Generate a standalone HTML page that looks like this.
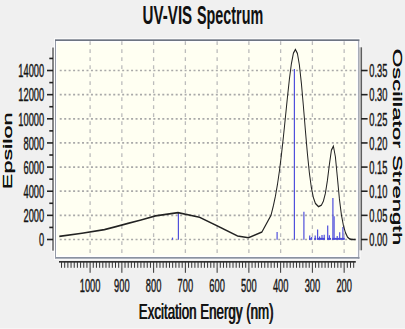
<!DOCTYPE html>
<html><head><meta charset="utf-8"><style>html,body{margin:0;padding:0;background:#f0f0f0;overflow:hidden}svg{display:block;}</style></head>
<body><svg width="405" height="329" viewBox="0 0 405 329">
<style>
.vg{stroke:#bcbcbc;stroke-width:1.3;stroke-dasharray:3.7 4.3;}
.hg{stroke:#a9a9a9;stroke-width:1.7;stroke-dasharray:2.0 2.46;stroke-dashoffset:2.54}
.tl{font-family:"Liberation Sans",sans-serif;font-size:18.8px;fill:#151515;stroke:#151515;stroke-width:0.45px;}
.tr{font-family:"Liberation Sans",sans-serif;fill:#111;}
.tt{font-family:"Liberation Sans",sans-serif;font-weight:bold;fill:#111;}
</style>
<rect x="0" y="0" width="405" height="329" fill="#f0f0f0"/>
<rect x="54" y="38.2" width="306.5" height="221.5" fill="#ffffff" opacity="0.8"/>
<rect x="55" y="39.4" width="304.5" height="219.4" fill="#ffffff"/>
<rect x="55" y="39.3" width="304.5" height="1.8" fill="#6e7582"/>
<rect x="55" y="41" width="1" height="217.8" fill="#949aa6"/>
<rect x="357.8" y="41" width="1.5" height="217.8" fill="#a8adb8"/><rect x="359.3" y="47.3" width="1.6" height="203" fill="#bababa"/>
<rect x="56" y="257" width="303.5" height="1.7" fill="#8a92a0"/>
<rect x="56" y="41" width="301.8" height="215.9" fill="#ffffff"/>
<rect x="56.9" y="42.6" width="299.5" height="212.7" fill="#fffff2"/>
<g><line x1="344.15" y1="41.2" x2="344.15" y2="256.5" class="vg"/><line x1="312.39" y1="41.2" x2="312.39" y2="256.5" class="vg"/><line x1="280.64" y1="41.2" x2="280.64" y2="256.5" class="vg"/><line x1="248.88" y1="41.2" x2="248.88" y2="256.5" class="vg"/><line x1="217.13" y1="41.2" x2="217.13" y2="256.5" class="vg"/><line x1="185.37" y1="41.2" x2="185.37" y2="256.5" class="vg"/><line x1="153.61" y1="41.2" x2="153.61" y2="256.5" class="vg"/><line x1="121.86" y1="41.2" x2="121.86" y2="256.5" class="vg"/><line x1="90.10" y1="41.2" x2="90.10" y2="256.5" class="vg"/><line x1="57.8" y1="239.50" x2="358" y2="239.50" class="hg"/><line x1="57.8" y1="215.36" x2="358" y2="215.36" class="hg"/><line x1="57.8" y1="191.22" x2="358" y2="191.22" class="hg"/><line x1="57.8" y1="167.08" x2="358" y2="167.08" class="hg"/><line x1="57.8" y1="142.94" x2="358" y2="142.94" class="hg"/><line x1="57.8" y1="118.80" x2="358" y2="118.80" class="hg"/><line x1="57.8" y1="94.66" x2="358" y2="94.66" class="hg"/><line x1="57.8" y1="70.52" x2="358" y2="70.52" class="hg"/></g>
<g stroke="#5050dc" stroke-width="1.2"><line x1="172.50" y1="237.60" x2="172.50" y2="239.8"/><line x1="178.40" y1="212.90" x2="178.40" y2="239.8"/><line x1="277.10" y1="232.10" x2="277.10" y2="239.8"/><line x1="294.40" y1="68.90" x2="294.40" y2="239.8"/><line x1="303.90" y1="211.70" x2="303.90" y2="239.8"/><line x1="309.70" y1="235.60" x2="309.70" y2="239.8"/><line x1="311.70" y1="237.00" x2="311.70" y2="239.8"/><line x1="315.20" y1="235.40" x2="315.20" y2="239.8"/><line x1="317.60" y1="229.60" x2="317.60" y2="239.8"/><line x1="319.60" y1="236.50" x2="319.60" y2="239.8"/><line x1="322.00" y1="235.00" x2="322.00" y2="239.8"/><line x1="324.20" y1="234.80" x2="324.20" y2="239.8"/><line x1="327.70" y1="225.40" x2="327.70" y2="239.8"/><line x1="329.40" y1="235.30" x2="329.40" y2="239.8"/><line x1="332.90" y1="198.00" x2="332.90" y2="239.8"/><line x1="334.10" y1="216.30" x2="334.10" y2="239.8"/><line x1="337.20" y1="236.00" x2="337.20" y2="239.8"/><line x1="339.70" y1="232.20" x2="339.70" y2="239.8"/><line x1="342.90" y1="226.90" x2="342.90" y2="239.8"/><line x1="344.20" y1="237.50" x2="344.20" y2="239.8"/></g>
<g fill="#4a4ad8"><rect x="309" y="237.9" width="1.8" height="1.9"/><rect x="311.3" y="237.9" width="0.7" height="1.9"/><rect x="314.3" y="237.9" width="1.9" height="1.9"/><rect x="317.3" y="237.9" width="7.7" height="1.9"/><rect x="327.2" y="237.9" width="3.8" height="1.9"/><rect x="332.2" y="237.9" width="12.1" height="1.9"/></g>
<g transform="scale(1,1.6)"><path d="M59.30,147.750 L82.00,145.781 L104.40,143.500 L116.00,141.618 L128.00,139.628 L141.00,137.479 L155.50,134.926 L178.00,132.871 L199.50,135.748 L218.00,141.438 L237.60,147.500 L248.50,148.562 L261.90,145.000 L271.00,134.562 L273.40,128.507 L275.40,122.679 L277.40,115.517 L279.40,106.916 L281.40,96.879 L283.40,85.578 L285.40,73.416 L287.40,61.068 L289.40,49.479 L291.40,39.803 L293.40,33.256 L295.40,30.897 L297.40,33.376 L299.40,40.711 L301.40,52.180 L303.40,66.402 L305.40,81.601 L307.40,95.996 L309.40,108.189 L311.40,117.416 L313.40,123.595 L315.40,127.175 L318.50,129.187 L321.40,128.228 L323.40,125.705 L325.40,120.757 L327.40,112.814 L329.40,102.731 L331.40,93.878 L333.40,91.336 L335.40,98.015 L337.40,111.072 L339.40,124.310 L341.40,134.206 L343.40,140.941 L345.40,145.370 L347.40,148.019 L349.40,149.274 L351.40,149.636 L353.40,149.685 L355.40,149.687 L355.60,149.687" fill="none" stroke="#222" stroke-width="1.0" stroke-linejoin="miter" stroke-miterlimit="10"/></g>
<rect x="51.2" y="46.6" width="3.6" height="205" fill="#ffffff" opacity="0.7"/>
<rect x="52" y="47.5" width="2" height="203.2" fill="#868686"/>
<rect x="362" y="46.8" width="1.1" height="204" fill="#ffffff" opacity="0.6"/><rect x="360.8" y="47.3" width="1.3" height="203" fill="#5e5e5e"/>
<g stroke="#222" stroke-width="1.6"><line x1="47" y1="239.50" x2="53" y2="239.50"/><line x1="49.3" y1="227.43" x2="53" y2="227.43"/><line x1="47" y1="215.36" x2="53" y2="215.36"/><line x1="49.3" y1="203.29" x2="53" y2="203.29"/><line x1="47" y1="191.22" x2="53" y2="191.22"/><line x1="49.3" y1="179.15" x2="53" y2="179.15"/><line x1="47" y1="167.08" x2="53" y2="167.08"/><line x1="49.3" y1="155.01" x2="53" y2="155.01"/><line x1="47" y1="142.94" x2="53" y2="142.94"/><line x1="49.3" y1="130.87" x2="53" y2="130.87"/><line x1="47" y1="118.80" x2="53" y2="118.80"/><line x1="49.3" y1="106.73" x2="53" y2="106.73"/><line x1="47" y1="94.66" x2="53" y2="94.66"/><line x1="49.3" y1="82.59" x2="53" y2="82.59"/><line x1="47" y1="70.52" x2="53" y2="70.52"/><line x1="49.3" y1="58.45" x2="53" y2="58.45"/></g>
<g stroke="#222" stroke-width="1.6"><line x1="361" y1="239.50" x2="367.6" y2="239.50"/><line x1="361" y1="215.36" x2="367.6" y2="215.36"/><line x1="361" y1="191.22" x2="367.6" y2="191.22"/><line x1="361" y1="167.08" x2="367.6" y2="167.08"/><line x1="361" y1="142.94" x2="367.6" y2="142.94"/><line x1="361" y1="118.80" x2="367.6" y2="118.80"/><line x1="361" y1="94.66" x2="367.6" y2="94.66"/><line x1="361" y1="70.52" x2="367.6" y2="70.52"/></g>
<rect x="59" y="261.1" width="296.8" height="1.5" fill="#1a1a1a"/>
<g stroke="#333" stroke-width="1"><line x1="61.52" y1="262" x2="61.52" y2="267.8"/><line x1="64.70" y1="262" x2="64.70" y2="267.8"/><line x1="67.87" y1="262" x2="67.87" y2="267.8"/><line x1="71.05" y1="262" x2="71.05" y2="267.8"/><line x1="74.22" y1="262" x2="74.22" y2="267.8"/><line x1="77.40" y1="262" x2="77.40" y2="267.8"/><line x1="80.58" y1="262" x2="80.58" y2="267.8"/><line x1="83.75" y1="262" x2="83.75" y2="267.8"/><line x1="86.93" y1="262" x2="86.93" y2="267.8"/><line x1="90.10" y1="262" x2="90.10" y2="272.8"/><line x1="93.28" y1="262" x2="93.28" y2="267.8"/><line x1="96.45" y1="262" x2="96.45" y2="267.8"/><line x1="99.63" y1="262" x2="99.63" y2="267.8"/><line x1="102.80" y1="262" x2="102.80" y2="267.8"/><line x1="105.98" y1="262" x2="105.98" y2="267.8"/><line x1="109.16" y1="262" x2="109.16" y2="267.8"/><line x1="112.33" y1="262" x2="112.33" y2="267.8"/><line x1="115.51" y1="262" x2="115.51" y2="267.8"/><line x1="118.68" y1="262" x2="118.68" y2="267.8"/><line x1="121.86" y1="262" x2="121.86" y2="272.8"/><line x1="125.03" y1="262" x2="125.03" y2="267.8"/><line x1="128.21" y1="262" x2="128.21" y2="267.8"/><line x1="131.38" y1="262" x2="131.38" y2="267.8"/><line x1="134.56" y1="262" x2="134.56" y2="267.8"/><line x1="137.74" y1="262" x2="137.74" y2="267.8"/><line x1="140.91" y1="262" x2="140.91" y2="267.8"/><line x1="144.09" y1="262" x2="144.09" y2="267.8"/><line x1="147.26" y1="262" x2="147.26" y2="267.8"/><line x1="150.44" y1="262" x2="150.44" y2="267.8"/><line x1="153.61" y1="262" x2="153.61" y2="272.8"/><line x1="156.79" y1="262" x2="156.79" y2="267.8"/><line x1="159.97" y1="262" x2="159.97" y2="267.8"/><line x1="163.14" y1="262" x2="163.14" y2="267.8"/><line x1="166.32" y1="262" x2="166.32" y2="267.8"/><line x1="169.49" y1="262" x2="169.49" y2="267.8"/><line x1="172.67" y1="262" x2="172.67" y2="267.8"/><line x1="175.84" y1="262" x2="175.84" y2="267.8"/><line x1="179.02" y1="262" x2="179.02" y2="267.8"/><line x1="182.19" y1="262" x2="182.19" y2="267.8"/><line x1="185.37" y1="262" x2="185.37" y2="272.8"/><line x1="188.55" y1="262" x2="188.55" y2="267.8"/><line x1="191.72" y1="262" x2="191.72" y2="267.8"/><line x1="194.90" y1="262" x2="194.90" y2="267.8"/><line x1="198.07" y1="262" x2="198.07" y2="267.8"/><line x1="201.25" y1="262" x2="201.25" y2="267.8"/><line x1="204.42" y1="262" x2="204.42" y2="267.8"/><line x1="207.60" y1="262" x2="207.60" y2="267.8"/><line x1="210.77" y1="262" x2="210.77" y2="267.8"/><line x1="213.95" y1="262" x2="213.95" y2="267.8"/><line x1="217.13" y1="262" x2="217.13" y2="272.8"/><line x1="220.30" y1="262" x2="220.30" y2="267.8"/><line x1="223.48" y1="262" x2="223.48" y2="267.8"/><line x1="226.65" y1="262" x2="226.65" y2="267.8"/><line x1="229.83" y1="262" x2="229.83" y2="267.8"/><line x1="233.00" y1="262" x2="233.00" y2="267.8"/><line x1="236.18" y1="262" x2="236.18" y2="267.8"/><line x1="239.36" y1="262" x2="239.36" y2="267.8"/><line x1="242.53" y1="262" x2="242.53" y2="267.8"/><line x1="245.71" y1="262" x2="245.71" y2="267.8"/><line x1="248.88" y1="262" x2="248.88" y2="272.8"/><line x1="252.06" y1="262" x2="252.06" y2="267.8"/><line x1="255.23" y1="262" x2="255.23" y2="267.8"/><line x1="258.41" y1="262" x2="258.41" y2="267.8"/><line x1="261.58" y1="262" x2="261.58" y2="267.8"/><line x1="264.76" y1="262" x2="264.76" y2="267.8"/><line x1="267.94" y1="262" x2="267.94" y2="267.8"/><line x1="271.11" y1="262" x2="271.11" y2="267.8"/><line x1="274.29" y1="262" x2="274.29" y2="267.8"/><line x1="277.46" y1="262" x2="277.46" y2="267.8"/><line x1="280.64" y1="262" x2="280.64" y2="272.8"/><line x1="283.81" y1="262" x2="283.81" y2="267.8"/><line x1="286.99" y1="262" x2="286.99" y2="267.8"/><line x1="290.16" y1="262" x2="290.16" y2="267.8"/><line x1="293.34" y1="262" x2="293.34" y2="267.8"/><line x1="296.52" y1="262" x2="296.52" y2="267.8"/><line x1="299.69" y1="262" x2="299.69" y2="267.8"/><line x1="302.87" y1="262" x2="302.87" y2="267.8"/><line x1="306.04" y1="262" x2="306.04" y2="267.8"/><line x1="309.22" y1="262" x2="309.22" y2="267.8"/><line x1="312.39" y1="262" x2="312.39" y2="272.8"/><line x1="315.57" y1="262" x2="315.57" y2="267.8"/><line x1="318.75" y1="262" x2="318.75" y2="267.8"/><line x1="321.92" y1="262" x2="321.92" y2="267.8"/><line x1="325.10" y1="262" x2="325.10" y2="267.8"/><line x1="328.27" y1="262" x2="328.27" y2="267.8"/><line x1="331.45" y1="262" x2="331.45" y2="267.8"/><line x1="334.62" y1="262" x2="334.62" y2="267.8"/><line x1="337.80" y1="262" x2="337.80" y2="267.8"/><line x1="340.97" y1="262" x2="340.97" y2="267.8"/><line x1="344.15" y1="262" x2="344.15" y2="272.8"/><line x1="347.33" y1="262" x2="347.33" y2="267.8"/><line x1="350.50" y1="262" x2="350.50" y2="267.8"/><line x1="353.68" y1="262" x2="353.68" y2="267.8"/></g>
<rect x="0" y="328" width="405" height="1" fill="#f5f5f5"/>
<g class="tl"><text text-anchor="end" transform="translate(44.2,246.20) scale(0.4947,1)">0</text><text transform="translate(369.3,246.20) scale(0.4947,1)">0.00</text><text text-anchor="end" transform="translate(44.2,222.06) scale(0.4947,1)">2000</text><text transform="translate(369.3,222.06) scale(0.4947,1)">0.05</text><text text-anchor="end" transform="translate(44.2,197.92) scale(0.4947,1)">4000</text><text transform="translate(369.3,197.92) scale(0.4947,1)">0.10</text><text text-anchor="end" transform="translate(44.2,173.78) scale(0.4947,1)">6000</text><text transform="translate(369.3,173.78) scale(0.4947,1)">0.15</text><text text-anchor="end" transform="translate(44.2,149.64) scale(0.4947,1)">8000</text><text transform="translate(369.3,149.64) scale(0.4947,1)">0.20</text><text text-anchor="end" transform="translate(44.2,125.50) scale(0.4947,1)">10000</text><text transform="translate(369.3,125.50) scale(0.4947,1)">0.25</text><text text-anchor="end" transform="translate(44.2,101.36) scale(0.4947,1)">12000</text><text transform="translate(369.3,101.36) scale(0.4947,1)">0.30</text><text text-anchor="end" transform="translate(44.2,77.22) scale(0.4947,1)">14000</text><text transform="translate(369.3,77.22) scale(0.4947,1)">0.35</text><text text-anchor="middle" transform="translate(344.15,291.8) scale(0.4947,1)">200</text><text text-anchor="middle" transform="translate(312.39,291.8) scale(0.4947,1)">300</text><text text-anchor="middle" transform="translate(280.64,291.8) scale(0.4947,1)">400</text><text text-anchor="middle" transform="translate(248.88,291.8) scale(0.4947,1)">500</text><text text-anchor="middle" transform="translate(217.13,291.8) scale(0.4947,1)">600</text><text text-anchor="middle" transform="translate(185.37,291.8) scale(0.4947,1)">700</text><text text-anchor="middle" transform="translate(153.61,291.8) scale(0.4947,1)">800</text><text text-anchor="middle" transform="translate(121.86,291.8) scale(0.4947,1)">900</text><text text-anchor="middle" transform="translate(90.10,291.8) scale(0.4947,1)">1000</text></g>
<g class="tt" font-size="26.2"><text transform="translate(142.6,24.05) scale(0.5775,1)">UV-VIS</text><text transform="translate(196.98,24.05) scale(0.548,1)">Spectrum</text></g>
<g class="tr"><text font-size="22.3" transform="translate(138.5,319.2) scale(0.598,1)">Excitation Energy (nm)</text><text font-size="22.3" transform="translate(139.1,319.2) scale(0.598,1)">Excitation Energy (nm)</text></g>
<g class="tr"><text font-size="23.4" transform="translate(12.2,189.4188) rotate(-90) scale(1,0.5683760683760685)">Epsilon</text><text font-size="23.4" transform="translate(12.2,188.9188) rotate(-90) scale(1,0.5683760683760685)">Epsilon</text></g>
<g class="tr"><text font-size="23.9" transform="translate(393.3,48.4767) rotate(90) scale(1,0.5146443514644352)">Oscillator Strength</text><text font-size="23.9" transform="translate(393.3,48.9767) rotate(90) scale(1,0.5146443514644352)">Oscillator Strength</text></g>
</svg></body></html>
